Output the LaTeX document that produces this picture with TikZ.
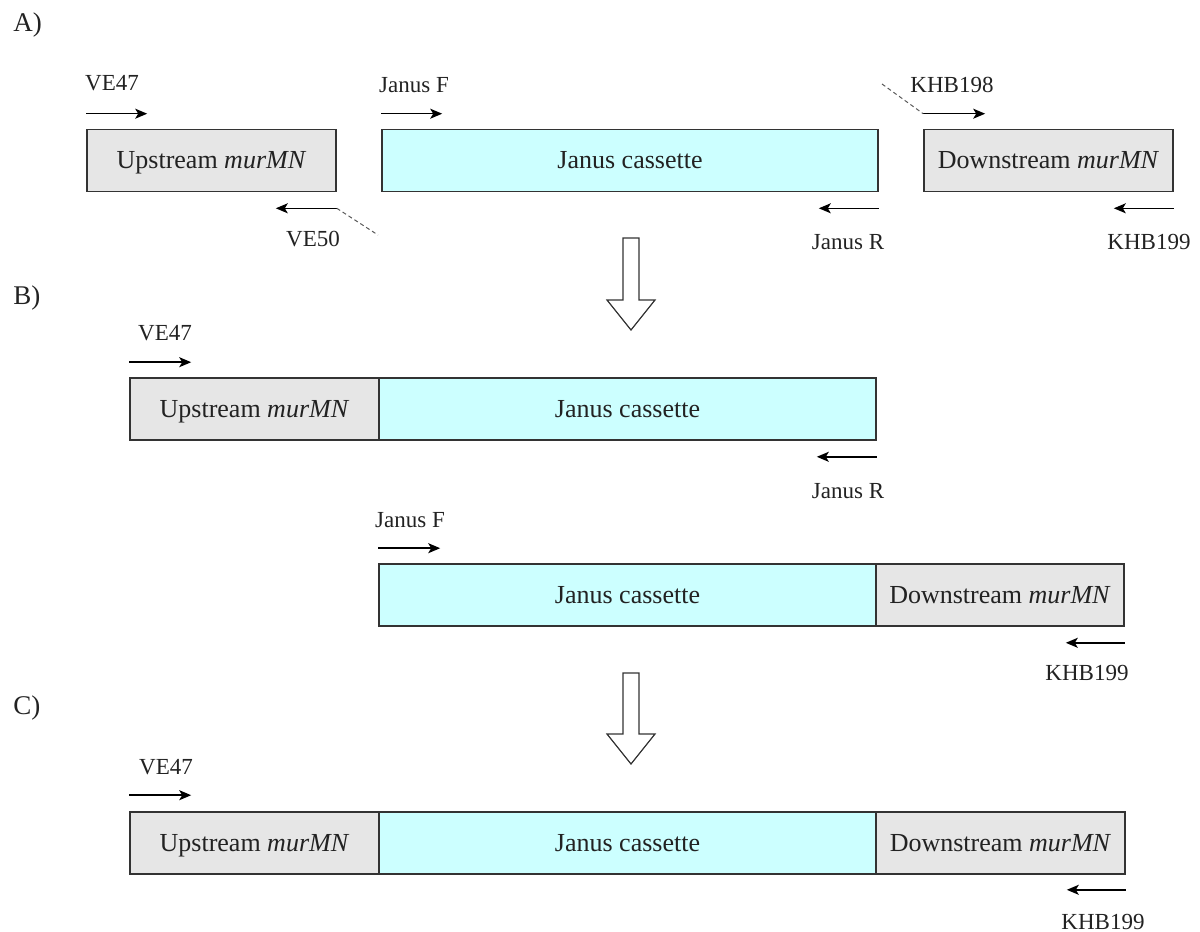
\documentclass[tikz,border=0pt]{standalone}
\usepackage{fontspec}
\setmainfont{Liberation Serif}
\usetikzlibrary{arrows.meta}
\definecolor{genegray}{HTML}{E6E6E6}
\definecolor{januscyan}{HTML}{CCFFFF}
\definecolor{boxline}{HTML}{333333}
\definecolor{txt}{HTML}{222222}
\tikzset{
  box/.style={draw=boxline, line width=0.8pt, minimum height=31pt, inner sep=0pt, text=txt, text height=10pt, text depth=2pt, font=\fontsize{13}{15}\selectfont},
  gene/.style={box, fill=genegray},
  janus/.style={box, fill=januscyan},
  primer/.style={-{Stealth[length=6pt,width=5pt,inset=1.5pt]}, line width=0.75pt, draw=black},
  lbl/.style={inner sep=0pt, text=txt, font=\fontsize{11.5}{13}\selectfont},
  panel/.style={inner sep=0pt, text=txt, font=\fontsize{13.5}{15}\selectfont},
  dashline/.style={dash pattern=on 2pt off 1.5pt, line width=0.5pt, draw=black!65},
  hollow/.style={draw=boxline, fill=white, line width=0.6pt, line join=miter}
}
\begin{document}
\begin{tikzpicture}[x=0.5pt, y=-0.5pt]
\useasboundingbox (0,0) rectangle (1200,932);

% panel letters
\node[panel, anchor=west] (pA) at (13,25) {A)};
\node[panel, anchor=west] (pB) at (13,298) {B)};
\node[panel, anchor=west] (pC) at (13,708) {C)};

% ---------- Row A ----------
\node[gene, minimum width=124.5pt] (upA) at (211.5,160.5) {Upstream \textit{murMN}};
\node[janus, minimum width=248pt] (janA) at (630,160.5) {Janus cassette};
\node[gene, minimum width=124.5pt] (dnA) at (1048.5,160.5) {Downstream \textit{murMN}};

\draw[primer] ([yshift=7.5pt]upA.north west) -- ++(61,0);
\node[lbl] (ve47A) at (112,83) {VE47};
\draw[primer] ([yshift=-8pt]upA.south east) coordinate (ve50t) -- ++(-61,0);
\draw[dashline] (ve50t) -- (378,235);
\node[lbl] (ve50A) at (313,239) {VE50};

\draw[primer] ([yshift=7.5pt]janA.north west) -- ++(61,0);
\node[lbl] (jfA) at (414,85) {Janus F};
\draw[primer] ([yshift=-8pt]janA.south east) -- ++(-60,0);
\node[lbl] (jrA) at (848,242) {Janus R};

\draw[primer] ([yshift=7.5pt]dnA.north west) coordinate (k198t) -- ++(62,0);
\draw[dashline] (882,84) -- (k198t);
\node[lbl] (k198A) at (952,85) {KHB198};
\draw[primer] ([yshift=-8pt]dnA.south east) -- ++(-60,0);
\node[lbl] (k199A) at (1149,242) {KHB199};

% hollow arrow 1
\draw[hollow] (623,238) -- (639,238) -- (639,300) -- (655,300) -- (631,330) -- (607,300) -- (623,300) -- cycle;

% ---------- Row B1 ----------
\node[gene, minimum width=124.5pt] (upB) at (254.5,409) {Upstream \textit{murMN}};
\node[janus, minimum width=248.5pt] (janB) at (627.5,409) {Janus cassette};
\draw[primer] ([yshift=7.5pt]upB.north west) -- ++(62,0);
\node[lbl] (ve47B) at (165,333) {VE47};
\draw[primer] ([yshift=-8pt]janB.south east) -- ++(-60,0);
\node[lbl] (jrB) at (848,491) {Janus R};

% ---------- Row B2 ----------
\node[janus, minimum width=248.5pt] (janB2) at (627.5,595) {Janus cassette};
\node[gene, minimum width=124pt] (dnB2) at (1000,595) {Downstream \textit{murMN}};
\draw[primer] ([yshift=7.5pt]janB2.north west) -- ++(62,0);
\node[lbl] (jfB2) at (410,520) {Janus F};
\draw[primer] ([yshift=-8pt]dnB2.south east) -- ++(-59,0);
\node[lbl] (k199B2) at (1087,673) {KHB199};

% hollow arrow 2
\draw[hollow] (623,673) -- (639,673) -- (639,734) -- (655,734) -- (631,764) -- (607,734) -- (623,734) -- cycle;

% ---------- Row C ----------
\node[gene, minimum width=124.5pt] (upC) at (254.5,843) {Upstream \textit{murMN}};
\node[janus, minimum width=248.5pt] (janC) at (627.5,843) {Janus cassette};
\node[gene, minimum width=124.5pt] (dnC) at (1000.5,843) {Downstream \textit{murMN}};
\draw[primer] ([yshift=8pt]upC.north west) -- ++(62,0);
\node[lbl] (ve47C) at (166,767) {VE47};
\draw[primer] ([yshift=-7.5pt]dnC.south east) -- ++(-59,0);
\node[lbl] (k199C) at (1103,922) {KHB199};
\end{tikzpicture}
\end{document}
